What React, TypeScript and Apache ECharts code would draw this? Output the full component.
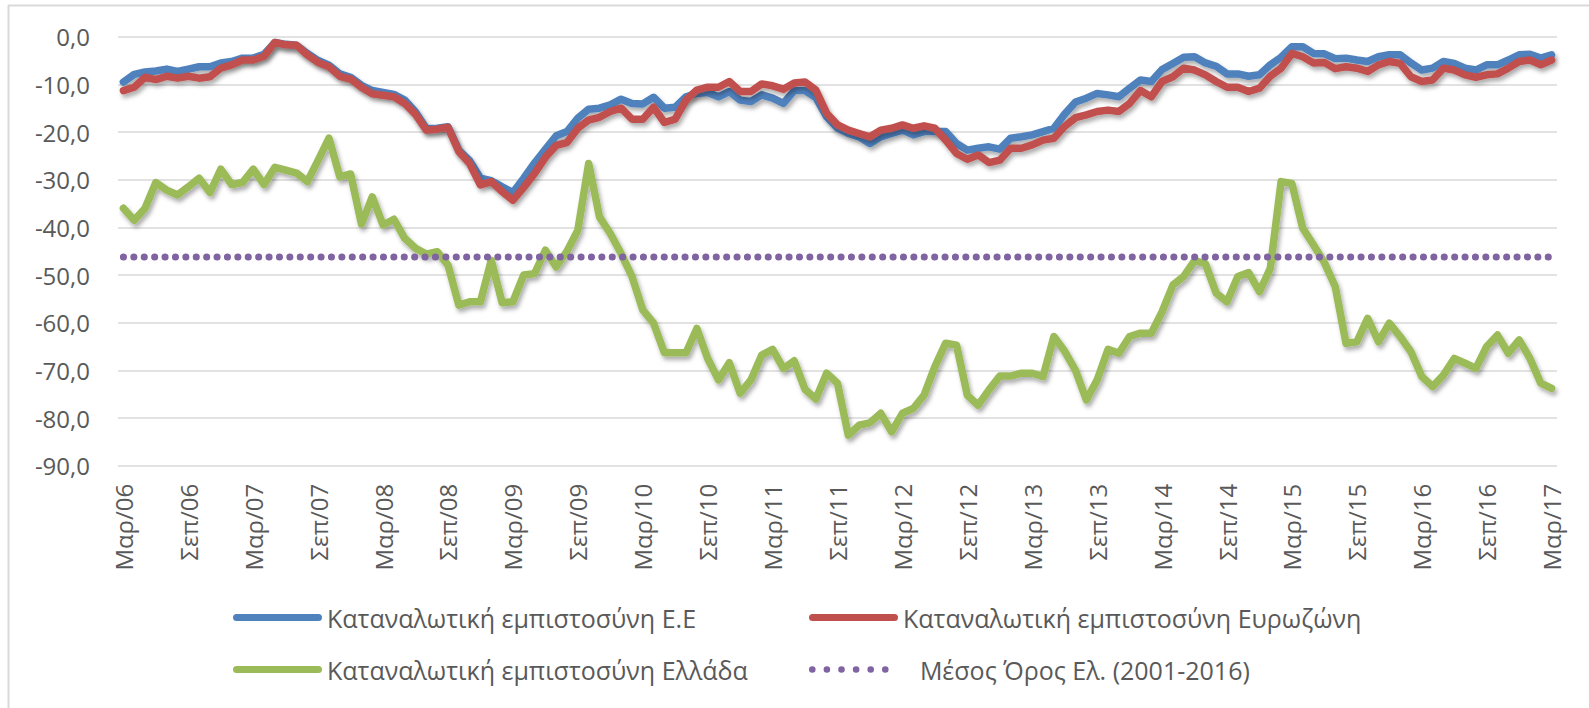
import React, { useEffect, useRef } from "react";
import * as echarts from "echarts";

const MONTH_NAMES = ["Ιαν", "Φεβ", "Μαρ", "Απρ", "Μαϊ", "Ιουν", "Ιουλ", "Αυγ", "Σεπ", "Οκτ", "Νοε", "Δεκ"];
const START_YEAR = 2006;
const START_MONTH = 2; // Μαρ
const N_MONTHS = 133;

const categories: string[] = [];
for (let k = 0; k < N_MONTHS; k++) {
  const m = (START_MONTH + k) % 12;
  const y = START_YEAR + Math.floor((START_MONTH + k) / 12);
  categories.push(`${MONTH_NAMES[m]}/${String(y % 100).padStart(2, "0")}`);
}

const euConfidence = [
  -9.5, -7.9, -7.4, -7.2, -6.8, -7.3, -6.8, -6.3, -6.3, -5.5, -5.2, -4.5, -4.5, -3.7, -1.2, -1.6, -1.8, -3.5, -5.0, -6.0,
  -7.8, -8.5, -10.2, -11.3, -11.7, -12.1, -13.3, -15.8, -19.3, -19.2, -18.9, -23.8, -26.0, -29.7, -30.2, -31.5, -32.7, -29.7, -26.5, -23.6,
  -20.8, -19.9, -17.1, -15.2, -15.0, -14.3, -13.1, -14.0, -14.1, -12.7, -15.0, -14.8, -12.6, -11.9, -11.7, -12.6, -11.5, -13.3, -13.6, -12.2,
  -12.9, -14.0, -11.3, -11.3, -12.8, -16.8, -19.2, -20.3, -21.0, -22.4, -21.0, -20.3, -19.6, -20.6, -19.9, -19.9, -19.9, -22.4, -23.8, -23.4,
  -23.1, -23.6, -21.3, -21.0, -20.6, -19.9, -19.2, -16.2, -13.7, -12.9, -11.9, -12.2, -12.6, -10.8, -9.1, -9.4, -6.9, -5.6, -4.3, -4.2,
  -5.5, -6.2, -7.8, -7.8, -8.3, -8.0, -5.9, -4.3, -2.1, -2.1, -3.5, -3.6, -4.6, -4.5, -4.9, -5.2, -4.2, -3.8, -3.8, -5.5,
  -7.0, -6.6, -5.2, -5.6, -6.6, -7.0, -5.9, -5.9, -4.9, -3.8, -3.7, -4.5, -3.8,
];

const euroAreaConfidence = [
  -11.3, -10.6, -8.5, -9.0, -8.3, -8.7, -8.3, -8.7, -8.4, -6.6, -5.9, -4.9, -4.9, -4.1, -1.2, -1.7, -1.8, -3.8, -5.4, -6.3,
  -8.3, -8.9, -10.6, -12.0, -12.3, -12.6, -14.0, -16.3, -19.6, -19.4, -19.0, -24.1, -26.6, -31.1, -30.4, -32.5, -34.3, -31.6, -28.7, -25.3,
  -22.8, -22.2, -19.2, -17.5, -16.9, -15.7, -15.0, -17.3, -17.3, -14.8, -18.0, -17.3, -13.3, -11.2, -10.6, -10.6, -9.4, -11.5, -11.5, -9.9,
  -10.3, -11.0, -9.7, -9.5, -11.2, -16.1, -18.5, -19.6, -20.3, -21.0, -19.6, -19.2, -18.5, -19.2, -18.7, -19.2, -21.7, -24.5, -25.7, -24.8,
  -26.4, -25.9, -23.4, -23.4, -22.7, -21.7, -21.3, -18.8, -17.0, -16.4, -15.7, -15.4, -15.7, -14.0, -11.3, -12.6, -9.4, -8.4, -6.6, -7.0,
  -8.0, -9.4, -10.6, -10.6, -11.5, -10.8, -8.3, -6.6, -3.5, -4.2, -5.5, -5.4, -6.7, -6.3, -6.6, -7.3, -5.9, -5.2, -5.6, -8.4,
  -9.4, -9.1, -6.6, -7.0, -8.0, -8.5, -8.0, -7.8, -6.6, -5.2, -4.9, -5.9, -4.9,
];

const greeceConfidence = [
  -36.0, -38.5, -36.0, -30.6, -32.2, -33.2, -31.5, -29.7, -32.7, -27.8, -31.0, -30.6, -27.8, -31.0, -27.4, -28.0, -28.6, -30.4, -25.9, -21.3,
  -29.4, -28.8, -39.3, -33.6, -39.5, -38.3, -42.3, -44.4, -45.6, -45.1, -47.9, -56.3, -55.6, -55.6, -46.9, -55.8, -55.6, -50.0, -49.7, -44.8,
  -48.3, -45.0, -40.6, -26.6, -37.8, -41.3, -45.5, -50.3, -57.3, -60.1, -66.3, -66.3, -66.3, -61.2, -67.5, -72.0, -68.4, -74.8, -72.0, -66.8,
  -65.6, -69.6, -68.0, -74.0, -76.0, -70.6, -72.7, -83.6, -81.5, -81.0, -79.0, -82.9, -79.0, -78.0, -75.2, -69.2, -64.3, -64.7, -75.2, -77.3,
  -74.1, -71.2, -71.2, -70.6, -70.6, -71.3, -62.9, -66.0, -70.0, -76.2, -72.0, -65.6, -66.4, -62.9, -62.2, -62.2, -57.7, -52.1, -50.3, -47.0,
  -47.6, -53.8, -55.6, -50.3, -49.5, -53.5, -48.6, -30.4, -30.8, -40.2, -43.7, -47.4, -52.4, -64.3, -64.0, -59.1, -64.0, -60.1, -62.9, -66.1,
  -71.3, -73.4, -71.0, -67.5, -68.5, -69.6, -65.0, -62.6, -66.4, -63.6, -67.5, -72.7, -73.8,
];

const greeceAverage2001_2016 = -46.2;
const averageSeries = categories.map(() => greeceAverage2001_2016);

const NAME_EU = "Καταναλωτική εμπιστοσύνη Ε.Ε";
const NAME_EA = "Καταναλωτική εμπιστοσύνη Ευρωζώνη";
const NAME_GR = "Καταναλωτική εμπιστοσύνη Ελλάδα";
const NAME_AVG = "Μέσος Όρος Ελ. (2001-2016)";

const FONT = "Open Sans";
const TEXT_COLOR = "#595959";
const GRID_COLOR = "#D9D9D9";

// legend icon shapes (round-capped bar, and a row of six dots)
const LINE_ICON = "path://M3.5,0 L85.5,0 A3.5,3.5 0 0 1 85.5,7 L3.5,7 A3.5,3.5 0 0 1 3.5,0 Z";
let dotsPath = "path://";
for (let k = 0; k < 6; k++) {
  const cx = 3.3 + k * 14.6;
  dotsPath += `M${cx - 3.3},3.3 A3.3,3.3 0 1 0 ${cx + 3.3},3.3 A3.3,3.3 0 1 0 ${cx - 3.3},3.3 Z `;
}
const DOTS_ICON = dotsPath.trim();

export default function App() {
  const ref = useRef<HTMLDivElement>(null);

  useEffect(() => {
    document.body.style.margin = "0";
    if (!ref.current) return;
    const chart = echarts.init(ref.current, null, { renderer: "svg" });

    const shadow = {
      shadowColor: "rgba(0,0,0,0.32)",
      shadowBlur: 4,
      shadowOffsetX: 2,
      shadowOffsetY: 3.5,
    };

    const legendBase = {
      orient: "horizontal" as const,
      padding: 0,
      itemWidth: 89,
      itemHeight: 7,
      textStyle: { fontFamily: FONT, fontSize: 25, color: TEXT_COLOR },
      itemStyle: { borderWidth: 0 },
      selectedMode: false,
    };

    chart.setOption({
      animation: false,
      backgroundColor: "#ffffff",
      textStyle: { fontFamily: FONT },
      graphic: [
        {
          type: "line",
          shape: { x1: 8, y1: 5.5, x2: 1589, y2: 5.5 },
          style: { stroke: GRID_COLOR, lineWidth: 2 },
          silent: true,
        },
        {
          type: "line",
          shape: { x1: 8.5, y1: 5, x2: 8.5, y2: 708 },
          style: { stroke: GRID_COLOR, lineWidth: 2 },
          silent: true,
        },
      ],
      grid: { left: 118, right: 32, top: 36.7, bottom: 242.3 },
      legend: [
        { ...legendBase, data: [{ name: NAME_EU, icon: LINE_ICON }], left: 233, top: 605 },
        { ...legendBase, data: [{ name: NAME_EA, icon: LINE_ICON }], left: 809, top: 605 },
        { ...legendBase, data: [{ name: NAME_GR, icon: LINE_ICON }], left: 233, top: 657 },
        {
          ...legendBase,
          itemWidth: 80.2,
          itemHeight: 6.6,
          textStyle: { ...legendBase.textStyle, padding: [0, 0, 0, 26] },
          data: [{ name: NAME_AVG, icon: DOTS_ICON }],
          left: 809,
          top: 657,
        },
      ],
      xAxis: {
        type: "category",
        data: categories,
        boundaryGap: true,
        axisLine: { show: false },
        axisTick: { show: false },
        axisLabel: {
          interval: 5,
          rotate: 90,
          margin: 18,
          fontFamily: FONT,
          fontSize: 24,
          color: TEXT_COLOR,
        },
        splitLine: { show: false },
      },
      yAxis: {
        type: "value",
        min: -90,
        max: 0,
        interval: 10,
        axisLine: { show: false },
        axisTick: { show: false },
        axisLabel: {
          margin: 28,
          fontFamily: FONT,
          fontSize: 24,
          color: TEXT_COLOR,
          formatter: (v: number) => v.toFixed(1).replace(".", ","),
        },
        splitLine: { show: true, lineStyle: { color: GRID_COLOR, width: 1.5 } },
      },
      series: [
        {
          name: NAME_EU,
          type: "line",
          data: euConfidence,
          symbol: "none",
          color: "#4F81BD",
          lineStyle: { color: "#4F81BD", width: 7.5, cap: "round", join: "round", ...shadow },
        },
        {
          name: NAME_EA,
          type: "line",
          data: euroAreaConfidence,
          symbol: "none",
          color: "#C0504D",
          lineStyle: { color: "#C0504D", width: 7.5, cap: "round", join: "round", ...shadow },
        },
        {
          name: NAME_GR,
          type: "line",
          data: greeceConfidence,
          symbol: "none",
          color: "#9BBB59",
          lineStyle: { color: "#9BBB59", width: 7.5, cap: "round", join: "round", ...shadow },
        },
        {
          name: NAME_AVG,
          type: "line",
          data: averageSeries,
          symbol: "none",
          color: "#8064A2",
          lineStyle: {
            color: "#8064A2",
            width: 7,
            type: [0.1, 10.3],
            cap: "round",
          },
        },
      ],
    });

    return () => chart.dispose();
  }, []);

  return <div ref={ref} style={{ width: 1589, height: 708 }} />;
}
